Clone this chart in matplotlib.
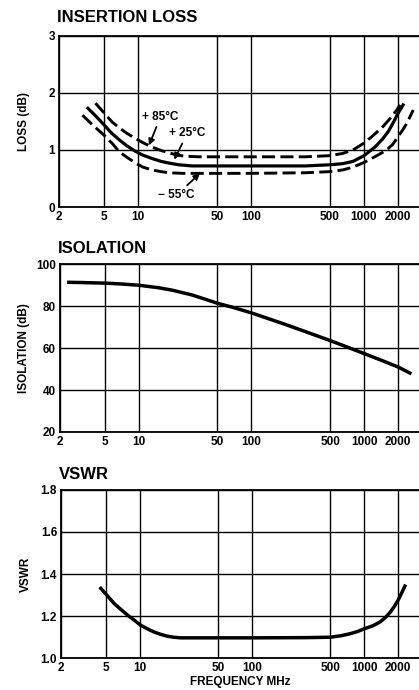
import matplotlib.pyplot as plt

plt.rcParams['font.family'] = ['Liberation Sans', 'DejaVu Sans']
plt.rcParams['font.weight'] = 'bold'

# Frequency ticks (MHz)
freq_ticks = [2, 5, 10, 50, 100, 500, 1000, 2000]

# Insertion loss curves (dB)
f_m55 = [3.22, 4, 5, 6, 6.8, 8, 9.5, 11, 13.3, 16, 18.8, 25, 50, 100, 300, 500, 650, 800, 1000, 1300, 1590, 1800, 2000, 2200, 2400, 2730]
loss_m55 = [1.61, 1.43, 1.26, 1.1, 0.97, 0.87, 0.77, 0.7, 0.65, 0.62, 0.6, 0.59, 0.59, 0.59, 0.6, 0.62, 0.65, 0.7, 0.78, 0.9, 1.0, 1.1, 1.23, 1.35, 1.47, 1.7]
f_25 = [3.6, 4.2, 5, 5.8, 6.8, 8, 9.6, 11, 13.3, 16, 18.8, 23, 30, 50, 100, 300, 500, 650, 800, 1000, 1250, 1473, 1650, 1807, 2000, 2220]
loss_25 = [1.73, 1.6, 1.44, 1.3, 1.18, 1.07, 0.97, 0.91, 0.85, 0.8, 0.77, 0.74, 0.72, 0.72, 0.72, 0.72, 0.74, 0.76, 0.8, 0.9, 1.05, 1.2, 1.33, 1.47, 1.64, 1.79]
f_85 = [4.2, 5, 5.9, 7, 8, 9.5, 11, 13.3, 16, 18.8, 22, 26.3, 35, 50, 100, 300, 500, 650, 800, 1000, 1200, 1473, 1700, 1950, 2085]
loss_85 = [1.82, 1.65, 1.49, 1.37, 1.29, 1.2, 1.13, 1.05, 0.99, 0.95, 0.91, 0.89, 0.88, 0.88, 0.88, 0.88, 0.9, 0.94, 1.0, 1.12, 1.25, 1.41, 1.55, 1.7, 1.79]

# Isolation (dB)
f_iso = [2.4, 3, 5, 7, 10, 15, 20, 30, 50, 70, 100, 200, 300, 500, 700, 1000, 1500, 2000, 2550]
iso = [91.4, 91.3, 91, 90.6, 90, 88.8, 87.6, 85.3, 81.4, 79.3, 76.8, 71.3, 67.9, 63.6, 60.6, 57.4, 53.7, 51, 48.1]

# VSWR
f_vswr = [4.51, 5.2, 5.93, 6.8, 7.8, 9, 10.2, 11.7, 13.4, 15.5, 17.6, 20, 23, 30, 50, 100, 300, 500, 620, 752, 870, 1000, 1200, 1385, 1550, 1710, 1850, 2000, 2150, 2300]
vswr = [1.332, 1.295, 1.26, 1.232, 1.205, 1.18, 1.157, 1.14, 1.125, 1.113, 1.105, 1.1, 1.097, 1.097, 1.097, 1.097, 1.098, 1.1, 1.107, 1.117, 1.127, 1.14, 1.155, 1.173, 1.195, 1.22, 1.246, 1.276, 1.31, 1.343]

fig = plt.figure(figsize=(4.19, 6.90), dpi=100)

def setup(ax, ylim, yticks, ytl, ylabel, title, labelpad, tpad):
    ax.set_xscale('log')
    ax.set_xlim(2, 3070)
    ax.set_ylim(*ylim)
    ax.set_xticks(freq_ticks)
    ax.set_xticklabels([str(v) for v in freq_ticks], fontsize=8.5, fontweight='bold')
    ax.xaxis.set_minor_locator(plt.NullLocator())
    ax.set_yticks(yticks)
    ax.set_yticklabels(ytl, fontsize=8.5, fontweight='bold')
    ax.tick_params(length=0, pad=3)
    ax.grid(True, color='black', linewidth=1.0)
    for s in ax.spines.values():
        s.set_linewidth(1.3)
    ax.spines['right'].set_visible(False)
    ax.set_ylabel(ylabel, fontsize=8.5, fontweight='bold', labelpad=labelpad)
    ax.set_title(title, loc='left', fontsize=12, fontweight='bold', x=-0.005, pad=tpad)

ax1 = fig.add_axes([0.141, 0.700, 0.859, 0.248])
setup(ax1, (0, 3), [0, 1, 2, 3], ['0', '1', '2', '3'], 'LOSS (dB)', 'INSERTION LOSS', 13, 10)
ax1.plot(f_m55, loss_m55, color='black', lw=2.1, ls=(0, (4.5, 1.8)))
ax1.plot(f_25, loss_25, color='black', lw=2.3)
ax1.plot(f_85, loss_85, color='black', lw=2.1, ls=(0, (4.5, 1.8)))
ap = dict(arrowstyle='-|>', color='black', lw=1.3, mutation_scale=9, shrinkA=1, shrinkB=0)
ax1.annotate('+ 85°C', xy=(12.5, 1.08), xytext=(15.8, 1.58), ha='center', va='center',
             fontsize=8.5, fontweight='bold', arrowprops=ap)
ax1.annotate('+ 25°C', xy=(20.9, 0.83), xytext=(27.3, 1.29), ha='center', va='center',
             fontsize=8.5, fontweight='bold', arrowprops=ap)
ax1.annotate('− 55°C', xy=(35.3, 0.59), xytext=(22, 0.21), ha='center', va='center',
             fontsize=8.5, fontweight='bold', arrowprops=ap)

ax2 = fig.add_axes([0.143, 0.374, 0.857, 0.243])
setup(ax2, (20, 100), [20, 40, 60, 80, 100], ['20', '40', '60', '80', '100'], 'ISOLATION (dB)', 'ISOLATION', 4, 8)
ax2.plot(f_iso, iso, color='black', lw=2.5)

ax3 = fig.add_axes([0.146, 0.046, 0.854, 0.244])
setup(ax3, (1.0, 1.8), [1.0, 1.2, 1.4, 1.6, 1.8], ['1.0', '1.2', '1.4', '1.6', '1.8'], 'VSWR', 'VSWR', 6, 8)
ax3.plot(f_vswr, vswr, color='black', lw=2.5)
ax3.set_xlabel('FREQUENCY MHz', fontsize=8.5, fontweight='bold', labelpad=1)

fig.savefig('out.png', dpi=100)
